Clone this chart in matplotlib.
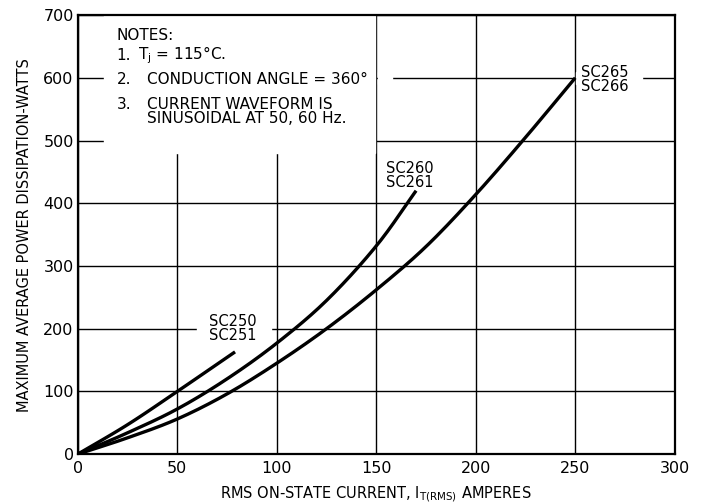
import numpy as np
import matplotlib
matplotlib.use("Agg")
import matplotlib.pyplot as plt
from matplotlib.patches import Rectangle

# curves (RMS current A, max avg power W)
i_sc250 = [0, 25, 50, 79]
p_sc250 = [0, 47, 100, 163]

i_sc260 = [0, 25, 50, 75, 100, 125, 150, 170]
p_sc260 = [0, 34, 72, 120, 177, 245, 332, 420]

i_sc265 = [0, 25, 50, 75, 100, 125, 150, 175, 200, 225, 250]
p_sc265 = [0, 26, 56, 96, 145, 200, 262, 331, 414, 505, 600]

x_ticks = [0, 50, 100, 150, 200, 250, 300]
y_ticks = [0, 100, 200, 300, 400, 500, 600, 700]

note_nums = ["1.", "2.", "3.", ""]
note_body = ["T$_\\mathrm{j}$ = 115°C.", "CONDUCTION ANGLE = 360°",
             "CURRENT WAVEFORM IS", "SINUSOIDAL AT 50, 60 Hz."]


def smooth(x, y, n=20):
    # catmull-rom through the read points
    x = np.asarray(x, float)
    y = np.asarray(y, float)
    px = np.concatenate([[2 * x[0] - x[1]], x, [2 * x[-1] - x[-2]]])
    py = np.concatenate([[2 * y[0] - y[1]], y, [2 * y[-1] - y[-2]]])
    t = np.linspace(0, 1, n)[:, None]
    xs, ys = [], []
    for k in range(1, len(px) - 2):
        for arr, out in ((px, xs), (py, ys)):
            p0, p1, p2, p3 = arr[k - 1], arr[k], arr[k + 1], arr[k + 2]
            seg = 0.5 * ((2 * p1) + (-p0 + p2) * t + (2 * p0 - 5 * p1 + 4 * p2 - p3) * t ** 2
                         + (-p0 + 3 * p1 - 3 * p2 + p3) * t ** 3)
            out.append(seg.ravel())
    return np.concatenate(xs), np.concatenate(ys)


fig = plt.figure(figsize=(7.08, 5.04), dpi=100)
ax = fig.add_axes([0.110, 0.099, 0.843, 0.871])

ax.set_xlim(0, 300)
ax.set_ylim(0, 700)
ax.set_xticks(x_ticks)
ax.set_yticks(y_ticks)
ax.tick_params(length=0, labelsize=11.5)
ax.tick_params(axis="y", pad=3)
ax.tick_params(axis="x", pad=5)
ax.set_axisbelow(True)
ax.grid(True, color="black", lw=1.0)
for s in ax.spines.values():
    s.set_linewidth(1.6)

# white-outs where the original grid is interrupted
ax.add_patch(Rectangle((13, 480), 136.5, 220, color="white", zorder=1))
ax.add_patch(Rectangle((60, 190), 37, 20, color="white", zorder=1))
ax.add_patch(Rectangle((250.6, 590), 33, 20, color="white", zorder=1))
ax.add_patch(Rectangle((151, 590), 7, 20, color="white", zorder=1))

for xs, ys in [(i_sc250, p_sc250), (i_sc260, p_sc260), (i_sc265, p_sc265)]:
    cx, cy = smooth(xs, ys)
    ax.plot(cx, cy, color="black", lw=2.4, solid_capstyle="butt", zorder=3)

ax.text(66, 200, "SC250\nSC251", fontsize=10.5, ha="left", va="center", linespacing=0.95, zorder=4)
ax.text(155, 444, "SC260\nSC261", fontsize=10.5, ha="left", va="center", linespacing=0.95, zorder=4)
ax.text(253, 597, "SC265\nSC266", fontsize=10.5, ha="left", va="center", linespacing=0.95, zorder=4)

ax.text(19.5, 668, "NOTES:", fontsize=11, ha="left", va="center", zorder=4)
note_y = [636, 597, 557, 535]
body_x = [30, 34.5, 34.5, 34.5]
for num, body, yy, bx in zip(note_nums, note_body, note_y, body_x):
    ax.text(19.5, yy, num, fontsize=11, ha="left", va="center", zorder=4)
    ax.text(bx, yy, body, fontsize=11, ha="left", va="center", zorder=4,
            bbox=dict(facecolor="white", edgecolor="none", pad=1))

ax.set_ylabel("MAXIMUM AVERAGE POWER DISSIPATION-WATTS", fontsize=10.5, labelpad=8)
ax.set_xlabel("RMS ON-STATE CURRENT, I$_{\\mathrm{T(RMS)}}$ AMPERES", fontsize=10.5, labelpad=6)

plt.savefig("out.png", dpi=100)
